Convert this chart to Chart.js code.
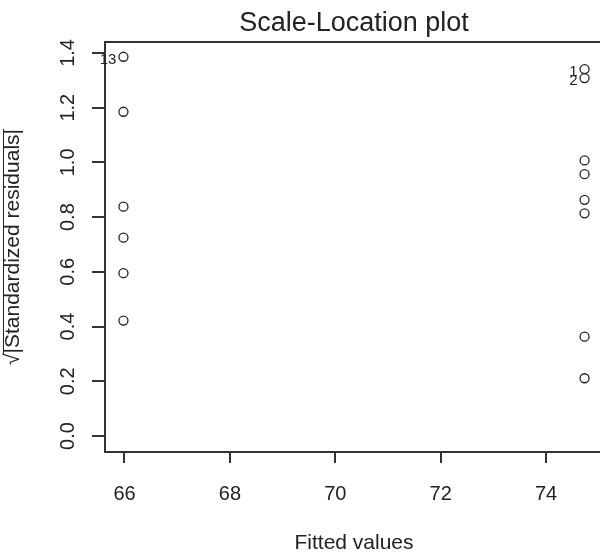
<!DOCTYPE html>
<html>
<head>
<meta charset="utf-8">
<script src="https://cdn.jsdelivr.net/npm/chart.js@4.4.1/dist/chart.umd.min.js"></script>
<style>
  html, body { margin: 0; padding: 0; background: #fff; overflow: hidden; }
</style>
</head>
<body>
<canvas id="plot" width="610" height="557"></canvas>
<script>
// observations: fitted value and sqrt(|standardized residual|)
const fitted = [74.73, 74.73, 74.73, 74.73, 74.73, 74.73, 74.73, 74.73,
                65.98, 65.98, 65.98, 65.98, 65.98, 65.98];
const sqrtResid = [1.341, 1.308, 1.007, 0.957, 0.863, 0.814, 0.363, 0.211,
                   1.185, 0.838, 0.725, 0.595, 1.386, 0.422];
const pointIds = ['1', '2', '', '', '', '', '', '', '', '', '', '', '13', ''];

const xTicks = [66, 68, 70, 72, 74];
const yTicks = [0, 0.2, 0.4, 0.6, 0.8, 1.0, 1.2, 1.4];
const yTickLabels = ['0.0', '0.2', '0.4', '0.6', '0.8', '1.0', '1.2', '1.4'];

const ink = '#222';
const font = '"Liberation Sans", Arial, sans-serif';

// closes the box (top and right sides), like R's box()
// and puts the main title over the plot region, not the whole canvas
const boxPlugin = {
  id: 'box',
  afterDraw(chart) {
    const a = chart.chartArea, c = chart.ctx;
    c.save();
    c.strokeStyle = '#333';
    c.lineWidth = 2;
    c.beginPath();
    c.moveTo(a.left, a.top);
    c.lineTo(a.right, a.top);
    c.lineTo(a.right, a.bottom);
    c.stroke();

    c.fillStyle = ink;
    c.font = '27px ' + font;
    c.textAlign = 'center';
    c.textBaseline = 'middle';
    c.fillText('Scale-Location plot', (a.left + a.right) / 2, 23.5);
    c.restore();
  }
};

// y tick labels are rotated (las = 0) and the y title has a radical sign
const yAxisText = {
  id: 'yAxisText',
  afterDraw(chart) {
    const c = chart.ctx, ys = chart.scales.y, a = chart.chartArea;
    c.save();
    c.fillStyle = ink;
    c.font = '20px ' + font;
    c.textAlign = 'center';
    c.textBaseline = 'middle';
    yTicks.forEach((v, i) => {
      c.save();
      c.translate(68, ys.getPixelForValue(v));
      c.rotate(-Math.PI / 2);
      c.fillText(yTickLabels[i], 0, 0);
      c.restore();
    });

    const title = '\u221A|Standardized residuals|';
    c.font = '21px ' + font;
    c.translate(13, (a.top + a.bottom) / 2);
    c.rotate(-Math.PI / 2);
    c.fillText(title, 0, 0);
    const w = c.measureText(title).width;
    const rw = c.measureText('\u221A').width;
    c.strokeStyle = ink;
    c.lineWidth = 1;
    c.beginPath();
    c.moveTo(-w / 2 + rw - 1, -9.5);
    c.lineTo(w / 2, -9.5);
    c.stroke();
    c.restore();
  }
};

// identify the largest residuals next to their points
const idLabels = {
  id: 'idLabels',
  afterDatasetsDraw(chart) {
    const c = chart.ctx, meta = chart.getDatasetMeta(0);
    c.save();
    c.fillStyle = ink;
    c.font = '15px ' + font;
    c.textAlign = 'right';
    c.textBaseline = 'middle';
    meta.data.forEach((el, i) => {
      if (pointIds[i] !== '') {
        c.fillText(pointIds[i], el.x - 7, el.y + 3);
      }
    });
    c.restore();
  }
};

new Chart(document.getElementById('plot'), {
  type: 'scatter',
  plugins: [boxPlugin, yAxisText, idLabels],
  data: {
    datasets: [{
      data: fitted.map((x, i) => ({x: x, y: sqrtResid[i]})),
      pointStyle: 'circle',
      pointRadius: 4.5,
      borderWidth: 1.3,
      borderColor: ink,
      backgroundColor: 'rgba(0,0,0,0)'
    }]
  },
  options: {
    responsive: false,
    animation: false,
    layout: { padding: { left: 0, right: 7, top: 42, bottom: 0 } },
    plugins: {
      legend: { display: false },
      tooltip: { enabled: false },
      title: { display: false }
    },
    scales: {
      x: {
        type: 'linear',
        min: 65.63,
        max: 75.08,
        afterBuildTicks: s => { s.ticks = xTicks.map(v => ({value: v})); },
        afterFit: s => { s.height = 105; },
        ticks: {
          color: ink,
          padding: 19,
          font: { family: font, size: 20 },
          callback: v => String(v)
        },
        grid: {
          drawOnChartArea: false,
          drawTicks: true,
          tickLength: 11,
          color: '#333',
          lineWidth: 2
        },
        border: { display: true, color: '#333', width: 2 },
        title: {
          display: true,
          text: 'Fitted values',
          color: ink,
          font: { family: font, size: 21 },
          padding: { top: 0, bottom: 1 }
        }
      },
      y: {
        type: 'linear',
        min: -0.0585,
        max: 1.44,
        afterBuildTicks: s => { s.ticks = yTicks.map(v => ({value: v})); },
        afterFit: s => { s.width = 105; },
        ticks: {
          color: 'rgba(0,0,0,0)',
          font: { family: font, size: 20 }
        },
        grid: {
          drawOnChartArea: false,
          drawTicks: true,
          tickLength: 13,
          color: '#333',
          lineWidth: 2
        },
        border: { display: true, color: '#333', width: 2 }
      }
    }
  }
});
</script>
</body>
</html>
